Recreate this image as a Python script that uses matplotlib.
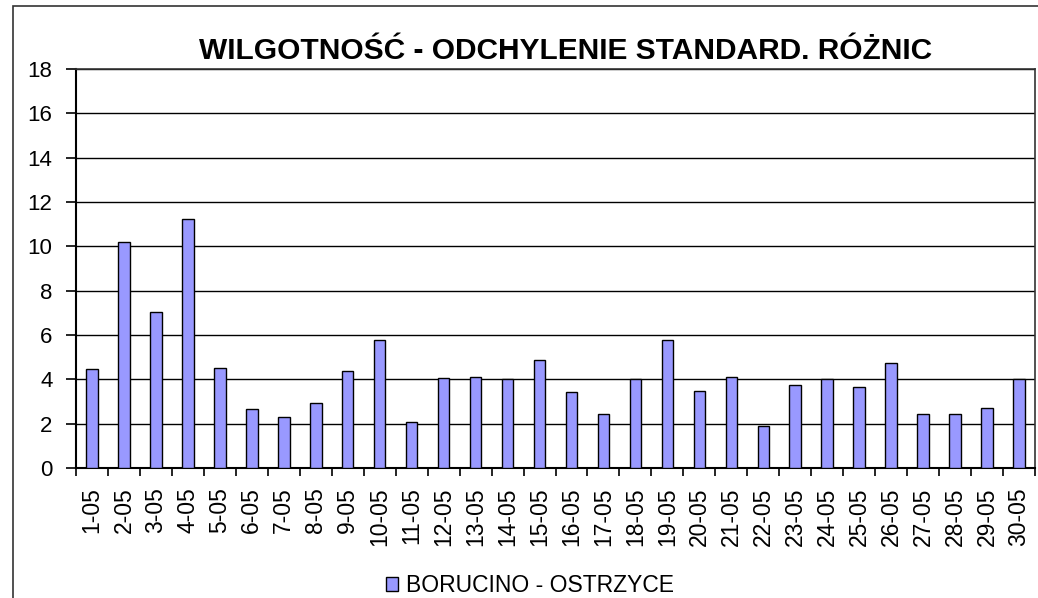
import matplotlib
matplotlib.use("Agg")
import matplotlib.pyplot as plt
from matplotlib.patches import Patch, Rectangle
from matplotlib import font_manager

categories = [f"{d}-05" for d in range(1, 31)]
values = [4.45, 10.19, 7.02, 11.25, 4.53, 2.67, 2.28, 2.94, 4.39, 5.77,
          2.08, 4.05, 4.12, 4.00, 4.85, 3.41, 2.42, 4.00, 5.78, 3.47,
          4.12, 1.89, 3.74, 4.00, 3.67, 4.72, 2.42, 2.42, 2.69, 4.00]
yticks = [0, 2, 4, 6, 8, 10, 12, 14, 16, 18]
title = "WILGOTNOŚĆ - ODCHYLENIE STANDARD. RÓŻNIC"
series_name = "BORUCINO - OSTRZYCE"

names = {f.name for f in font_manager.fontManager.ttflist}
base_font = "Liberation Sans" if "Liberation Sans" in names else "DejaVu Sans"
title_font = "Liberation Sans Narrow" if "Liberation Sans Narrow" in names else base_font
plt.rcParams["font.family"] = [base_font, "DejaVu Sans"]

W, H = 1038, 598
fig = plt.figure(figsize=(W / 100, H / 100), dpi=100)
fig.patch.set_facecolor("white")

# outer chart border (extends past image on right/bottom)
fig.patches.append(Rectangle((13 / W, -0.1), 1.2, (H - 6) / H + 0.1,
                             transform=fig.transFigure, fill=False,
                             edgecolor="#333333", linewidth=1.2))

ax = fig.add_axes([76 / W, (H - 468) / H, (1035 - 76) / W, (468 - 69) / H])
x = list(range(len(categories)))
ax.bar(x, values, width=0.36, color="#9999FF", edgecolor="black",
       linewidth=1.0, zorder=3)
ax.set_xlim(-0.5, len(categories) - 0.5)
ax.set_ylim(0, 18)
ax.set_yticks(yticks)
ax.set_yticklabels([str(v) for v in yticks], fontsize=16)
ax.yaxis.grid(True, color="black", linewidth=1.0, zorder=0)
ax.set_axisbelow(True)

ax.set_xticks([i + 0.5 for i in range(-1, len(categories))], minor=False)
ax.set_xticklabels([])
ax.set_xticks(x, minor=True)
ax.set_xticklabels(categories, minor=True, rotation=90, fontsize=16.5)
ax.tick_params(axis="x", which="minor", length=0, pad=14)
ax.tick_params(axis="x", which="major", length=6, width=1.2, direction="out")
ax.tick_params(axis="y", length=7, width=1.2, direction="out", pad=10)

for s in ["left", "bottom"]:
    ax.spines[s].set_linewidth(1.5)
for s in ["top", "right"]:
    ax.spines[s].set_linewidth(1.2)
    ax.spines[s].set_color("#333333")

fig.text(566 / W, (H - 59) / H, title, ha="center", va="baseline",
         fontsize=21.5, fontweight="bold", family=[title_font, "DejaVu Sans"])

fig.legend(handles=[Patch(facecolor="#9999FF", edgecolor="black", linewidth=1.0)],
           labels=[series_name], loc="center",
           bbox_to_anchor=(530 / W, 12 / H), frameon=False, fontsize=16.5,
           handlelength=0.55, handleheight=0.55, handletextpad=0.35,
           borderpad=0, borderaxespad=0)

fig.savefig("out.png", dpi=100, facecolor="white")
